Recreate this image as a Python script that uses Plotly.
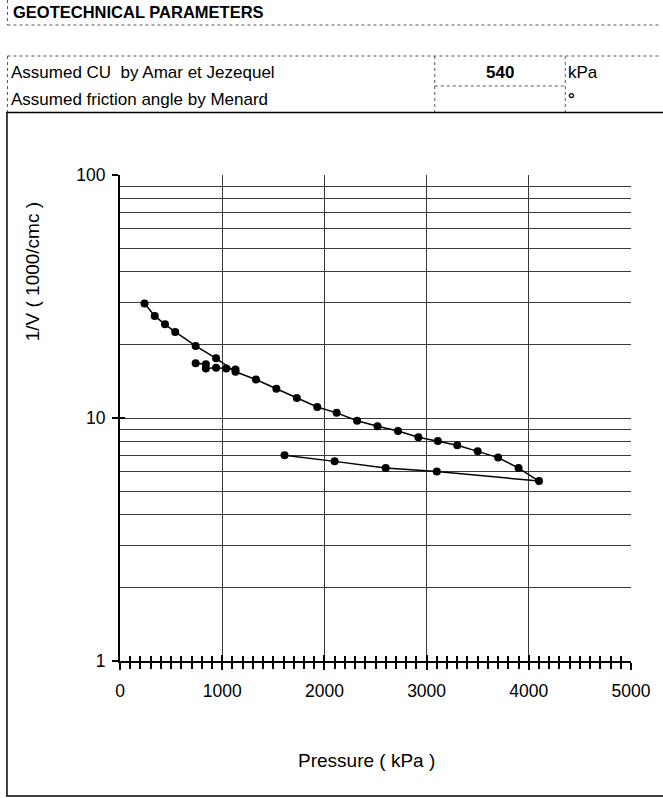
import plotly.graph_objects as go

# ---- data ----
main_pressure = [240, 340, 440, 540, 740, 940, 1130, 1330, 1530, 1730, 1930, 2120, 2320,
                 2520, 2720, 2920, 3110, 3300, 3500, 3700, 3900, 4100, 3100, 2600, 2100, 1610]
main_inv_v = [29.6, 26.3, 24.3, 22.6, 19.8, 17.6, 15.5, 14.4, 13.2, 12.1, 11.1, 10.5, 9.75,
              9.24, 8.84, 8.33, 8.04, 7.72, 7.29, 6.87, 6.22, 5.50, 6.03, 6.22, 6.63, 7.02]
loop_pressure = [740, 840, 840, 940, 1040, 1130]
loop_inv_v = [16.8, 16.65, 16.0, 16.1, 16.0, 15.85]

x_ticks = [0, 1000, 2000, 3000, 4000, 5000]
y_ticks = [1, 10, 100]

header_title = "GEOTECHNICAL PARAMETERS"
row_labels = ["Assumed CU  by Amar et Jezequel", "Assumed friction angle by Menard"]
row_values = ["540", ""]
row_units = ["kPa", "°"]
x_title = "Pressure ( kPa )"
y_title = "1/V ( 1000/cmc )"

# ---- layout geometry (pixels) ----
W, H = 663, 798
L, R, T, B = 120, 633, 175, 661
FONT = "Liberation Sans, Arial, sans-serif"


def px(x):
    return (x - L) / (R - L)


def py(y):
    return (B - y) / (B - T)


fig = go.Figure()
marker = dict(color="black", size=8)
line = dict(color="black", width=1.5)
fig.add_trace(go.Scatter(x=main_pressure, y=main_inv_v, mode="lines+markers",
                         marker=marker, line=line, showlegend=False))
fig.add_trace(go.Scatter(x=loop_pressure, y=loop_inv_v, mode="lines+markers",
                         marker=marker, line=line, showlegend=False))
# invisible trace to hold the overlay axes (cross ticks)
fig.add_trace(go.Scatter(x=[0], y=[1], xaxis="x2", yaxis="y2", mode="markers",
                         marker=dict(opacity=0), showlegend=False, hoverinfo="skip"))

grid_col = "#3a3a3a"
fig.update_layout(
    width=W, height=H,
    margin=dict(l=L, r=W - R, t=T, b=H - B, pad=0),
    paper_bgcolor="white", plot_bgcolor="white",
    font=dict(family=FONT, size=17, color="black"),
    xaxis=dict(range=[0, 5000], tickvals=x_ticks, ticktext=[str(v) for v in x_ticks],
               showgrid=True, gridcolor=grid_col, gridwidth=1, zeroline=False,
               showline=True, linecolor="black", linewidth=2,
               ticks="outside", ticklen=7, tickwidth=2, tickcolor="black",
               minor=dict(ticks="outside", dtick=100, ticklen=6, tickwidth=1.5,
                          tickcolor="black", showgrid=False),
               ticklabelstandoff=6, tickfont=dict(size=17.5)),
    yaxis=dict(type="log", range=[0, 2], tickvals=y_ticks, ticktext=[str(v) for v in y_ticks],
               showgrid=True, gridcolor=grid_col, gridwidth=1, zeroline=False,
               showline=True, linecolor="black", linewidth=2,
               ticks="outside", ticklen=6, tickwidth=2, tickcolor="black",
               minor=dict(dtick="D1", showgrid=True, gridcolor=grid_col, gridwidth=1, ticks=""),
               ticklabelstandoff=3, tickfont=dict(size=17.5)),
    xaxis2=dict(range=[0, 5000], overlaying="x", anchor="y", side="bottom",
                tickvals=x_ticks, showticklabels=False, showgrid=False, zeroline=False,
                ticks="inside", ticklen=6, tickwidth=2, tickcolor="black",
                minor=dict(ticks="inside", dtick=100, ticklen=5, tickwidth=1.5,
                           tickcolor="black", showgrid=False)),
    yaxis2=dict(type="log", range=[0, 2], overlaying="y", anchor="x", side="left",
                tickvals=y_ticks, showticklabels=False, showgrid=False, zeroline=False,
                ticks="inside", ticklen=5, tickwidth=2, tickcolor="black"),
)

# ---- frame & table decorations ----
dot = dict(color="#555555", width=1, dash="dot")
shapes = [
    # header box
    dict(x0=px(7), x1=px(7), y0=py(0), y1=py(25), line=dot),
    dict(x0=px(7), x1=px(663), y0=py(25), y1=py(25), line=dot),
    # parameter table
    dict(x0=px(7), x1=px(663), y0=py(56), y1=py(56), line=dot),
    dict(x0=px(7), x1=px(7), y0=py(56), y1=py(112), line=dot),
    dict(x0=px(436), x1=px(436), y0=py(56), y1=py(112), line=dot),
    dict(x0=px(567), x1=px(567), y0=py(56), y1=py(112), line=dot),
    dict(x0=px(436), x1=px(567), y0=py(86), y1=py(86), line=dot),
]
for s in shapes:
    s.update(type="line", xref="paper", yref="paper", layer="above")
fig.update_layout(shapes=shapes + [
    dict(type="rect", xref="paper", yref="paper", x0=px(6.5), x1=px(670), y0=py(112.5), y1=py(796),
         line=dict(color="black", width=1.5), fillcolor="rgba(0,0,0,0)", layer="below"),
])

ann = []


def text(x, y, s, size=17, bold=False, xanchor="left", angle=0):
    ann.append(dict(x=px(x), y=py(y), xref="paper", yref="paper", text=("<b>%s</b>" % s) if bold else s,
                    showarrow=False, xanchor=xanchor, yanchor="middle", textangle=angle,
                    font=dict(family=FONT, size=size, color="black")))


text(11, 12, header_title, size=16.5, bold=True)
row_y = [72, 99]
for i in range(2):
    text(9, row_y[i], row_labels[i])
    if row_values[i]:
        text(501, row_y[i], row_values[i], bold=True, xanchor="center")
    text(568, row_y[i], row_units[i], bold=(row_units[i] == "°"))
text(367, 760, x_title, size=19, xanchor="center")
text(32, 272, y_title, size=19, angle=-90, xanchor="center")
fig.update_layout(annotations=ann)

fig.write_html("out.html")
